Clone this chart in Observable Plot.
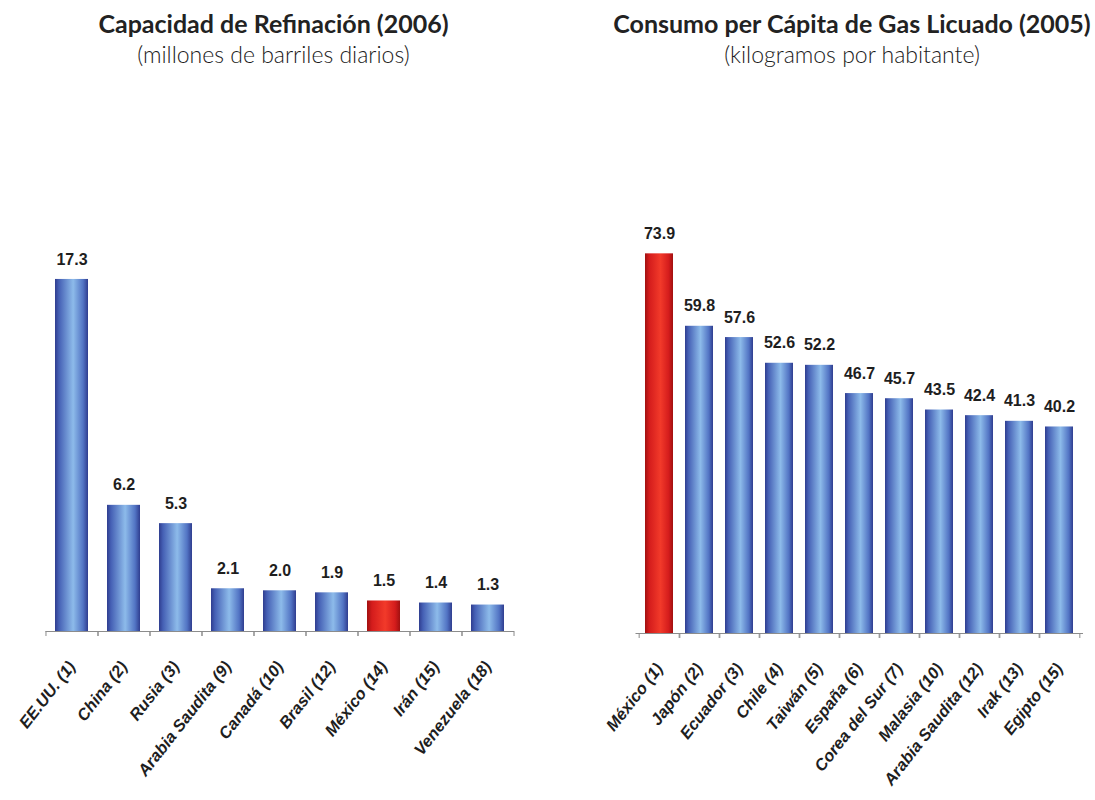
<!DOCTYPE html>
<html>
<head>
<meta charset="utf-8">
<script src="https://cdn.jsdelivr.net/npm/d3@7"></script>
<script src="https://cdn.jsdelivr.net/npm/@observablehq/plot@0.6"></script>
<style>
  html, body { margin: 0; padding: 0; background: #fff; }
  body { width: 1095px; height: 800px; position: relative; overflow: hidden; }
  .panel { position: absolute; top: 0; }
  .head { height: 80px; text-align: center; color: #222; font-family: Lato, "Open Sans", sans-serif; }
  .title { font-size: 25px; font-weight: 700; line-height: 28px; padding-top: 9px; }
  .sub { font-size: 23px; font-weight: 300; line-height: 26px; padding-top: 4px; color: #1a1a1a; }
  svg text { font-family: "Liberation Sans", Arial, sans-serif; }
</style>
</head>
<body>
<svg width="0" height="0" style="position:absolute">
  <defs>
    <linearGradient id="gBlue" x1="0" x2="1" y1="0" y2="0">
      <stop offset="0" stop-color="#2f3d8f"/>
      <stop offset="0.12" stop-color="#4560b5"/>
      <stop offset="0.55" stop-color="#8dbbea"/>
      <stop offset="0.85" stop-color="#5274c4"/>
      <stop offset="1" stop-color="#2f3d8f"/>
    </linearGradient>
    <linearGradient id="gRed" x1="0" x2="1" y1="0" y2="0">
      <stop offset="0" stop-color="#a01010"/>
      <stop offset="0.15" stop-color="#d41c1c"/>
      <stop offset="0.55" stop-color="#f23a2a"/>
      <stop offset="0.85" stop-color="#d41c1c"/>
      <stop offset="1" stop-color="#a01010"/>
    </linearGradient>
  </defs>
</svg>
<div class="panel" id="left" style="left:0;width:547px">
  <div class="head"><div class="title">Capacidad de Refinación (2006)</div><div class="sub">(millones de barriles diarios)</div></div>
</div>
<div class="panel" id="right" style="left:547px;width:548px">
  <div class="head" style="padding-left:62px;width:486px"><div class="title">Consumo per Cápita de Gas Licuado (2005)</div><div class="sub">(kilogramos por habitante)</div></div>
</div>
<script>
// Capacidad de Refinación (2006), millones de barriles diarios
const refinaNames = ["EE.UU. (1)", "China (2)", "Rusia (3)", "Arabia Saudita (9)", "Canadá (10)", "Brasil (12)", "México (14)", "Irán (15)", "Venezuela (18)"];
const refinaValues = [17.3, 6.2, 5.3, 2.1, 2.0, 1.9, 1.5, 1.4, 1.3];
const refinaHighlight = "México (14)";

// Consumo per Cápita de Gas Licuado (2005), kg por habitante
const glpNames = ["México (1)", "Japón (2)", "Ecuador (3)", "Chile (4)", "Taiwán (5)", "España (6)", "Corea del Sur (7)", "Malasia (10)", "Arabia Saudita (12)", "Irak (13)", "Egipto (15)"];
const glpValues = [73.9, 59.8, 57.6, 52.6, 52.2, 46.7, 45.7, 43.5, 42.4, 41.3, 40.2];
const glpHighlight = "México (1)";

function makeChart({names, values, highlight, width, height, ml, mr, mt, mb, yMax, padding}) {
  const data = names.map((name, i) => ({name, value: values[i], hi: name === highlight}));
  const step = (width - ml - mr) / names.length;
  const axisColor = "#8c8c8c";
  return Plot.plot({
    width, height,
    marginLeft: ml, marginRight: mr, marginTop: mt, marginBottom: mb,
    x: {domain: names, paddingInner: padding, paddingOuter: padding / 2, label: null},
    y: {domain: [0, yMax], axis: null},
    color: {type: "identity"},
    marks: [
      Plot.barY(data, {x: "name", y: "value", fill: d => d.hi ? "url(#gRed)" : "url(#gBlue)"}),
      Plot.ruleY([0], {stroke: axisColor, strokeWidth: 1.2}),
      Plot.axisX({tickSize: 5, dx: step / 2, tickFormat: () => "", stroke: axisColor, label: null}),
      Plot.axisX({tickSize: 5, dx: -step / 2, tickFormat: () => "", stroke: axisColor, label: null}),
      Plot.axisX({tickSize: 0, tickPadding: 32, tickRotate: -52, fontSize: 16.5, fontWeight: "bold", fontStyle: "italic", fill: "#1e1e1e", label: null}),
      Plot.text(data, {x: "name", y: "value", text: d => d.value.toFixed(1), dy: -20, fontSize: 16, fontWeight: "bold", fill: "#1e1e1e"})
    ]
  });
}

document.getElementById("left").appendChild(makeChart({
  names: refinaNames, values: refinaValues, highlight: refinaHighlight,
  width: 547, height: 720, ml: 45.5, mr: 33, mt: 144, mb: 169, yMax: 20, padding: 0.37
}));
document.getElementById("right").appendChild(makeChart({
  names: glpNames, values: glpValues, highlight: glpHighlight,
  width: 548, height: 720, ml: 88.5, mr: 12, mt: 142, mb: 167, yMax: 80, padding: 0.29
}));
</script>
</body>
</html>
